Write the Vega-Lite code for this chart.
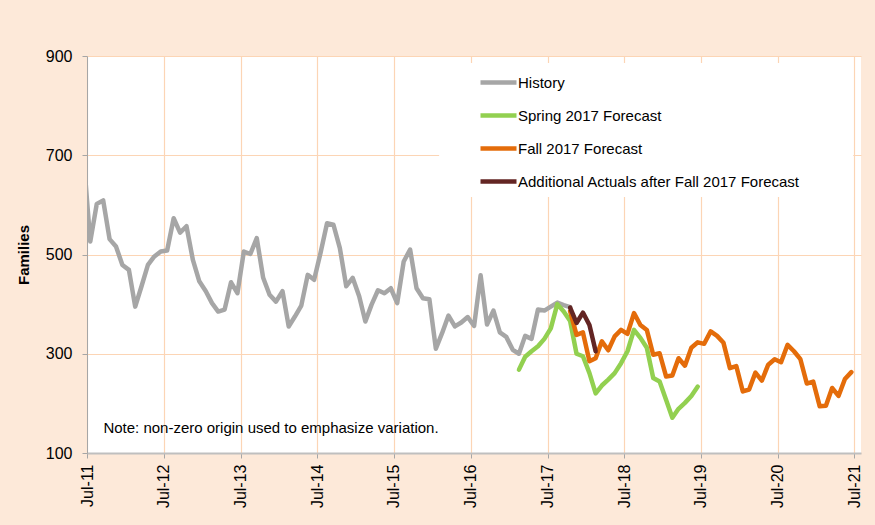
{
  "$schema": "https://vega.github.io/schema/vega-lite/v6.json",
  "width": 774,
  "height": 397,
  "autosize": {"type": "none"},
  "padding": {"left": 87, "top": 56, "right": 14, "bottom": 72},
  "background": "#FDE9D9",
  "config": {
    "view": {"fill": "white", "stroke": null},
    "font": "Liberation Sans",
    "axis": {"labelColor": "black", "titleColor": "black", "labelFont": "Liberation Sans", "titleFont": "Liberation Sans"}
  },
  "datasets": {
    "series": [
      {"s": "History", "d": "2011-06", "v": 690},
      {"s": "History", "d": "2011-07", "v": 526},
      {"s": "History", "d": "2011-08", "v": 602},
      {"s": "History", "d": "2011-09", "v": 609},
      {"s": "History", "d": "2011-10", "v": 531},
      {"s": "History", "d": "2011-11", "v": 516},
      {"s": "History", "d": "2011-12", "v": 479},
      {"s": "History", "d": "2012-01", "v": 469},
      {"s": "History", "d": "2012-02", "v": 395},
      {"s": "History", "d": "2012-03", "v": 436},
      {"s": "History", "d": "2012-04", "v": 479},
      {"s": "History", "d": "2012-05", "v": 496},
      {"s": "History", "d": "2012-06", "v": 506},
      {"s": "History", "d": "2012-07", "v": 508},
      {"s": "History", "d": "2012-08", "v": 573},
      {"s": "History", "d": "2012-09", "v": 544},
      {"s": "History", "d": "2012-10", "v": 557},
      {"s": "History", "d": "2012-11", "v": 489},
      {"s": "History", "d": "2012-12", "v": 446},
      {"s": "History", "d": "2013-01", "v": 426},
      {"s": "History", "d": "2013-02", "v": 402},
      {"s": "History", "d": "2013-03", "v": 385},
      {"s": "History", "d": "2013-04", "v": 389},
      {"s": "History", "d": "2013-05", "v": 444},
      {"s": "History", "d": "2013-06", "v": 422},
      {"s": "History", "d": "2013-07", "v": 506},
      {"s": "History", "d": "2013-08", "v": 501},
      {"s": "History", "d": "2013-09", "v": 533},
      {"s": "History", "d": "2013-10", "v": 453},
      {"s": "History", "d": "2013-11", "v": 419},
      {"s": "History", "d": "2013-12", "v": 405},
      {"s": "History", "d": "2014-01", "v": 426},
      {"s": "History", "d": "2014-02", "v": 355},
      {"s": "History", "d": "2014-03", "v": 375},
      {"s": "History", "d": "2014-04", "v": 397},
      {"s": "History", "d": "2014-05", "v": 459},
      {"s": "History", "d": "2014-06", "v": 449},
      {"s": "History", "d": "2014-07", "v": 503},
      {"s": "History", "d": "2014-08", "v": 563},
      {"s": "History", "d": "2014-09", "v": 560},
      {"s": "History", "d": "2014-10", "v": 513},
      {"s": "History", "d": "2014-11", "v": 436},
      {"s": "History", "d": "2014-12", "v": 453},
      {"s": "History", "d": "2015-01", "v": 416},
      {"s": "History", "d": "2015-02", "v": 365},
      {"s": "History", "d": "2015-03", "v": 399},
      {"s": "History", "d": "2015-04", "v": 428},
      {"s": "History", "d": "2015-05", "v": 422},
      {"s": "History", "d": "2015-06", "v": 432},
      {"s": "History", "d": "2015-07", "v": 402},
      {"s": "History", "d": "2015-08", "v": 486},
      {"s": "History", "d": "2015-09", "v": 510},
      {"s": "History", "d": "2015-10", "v": 432},
      {"s": "History", "d": "2015-11", "v": 412},
      {"s": "History", "d": "2015-12", "v": 410},
      {"s": "History", "d": "2016-01", "v": 310},
      {"s": "History", "d": "2016-02", "v": 342},
      {"s": "History", "d": "2016-03", "v": 377},
      {"s": "History", "d": "2016-04", "v": 355},
      {"s": "History", "d": "2016-05", "v": 363},
      {"s": "History", "d": "2016-06", "v": 374},
      {"s": "History", "d": "2016-07", "v": 356},
      {"s": "History", "d": "2016-08", "v": 458},
      {"s": "History", "d": "2016-09", "v": 359},
      {"s": "History", "d": "2016-10", "v": 387},
      {"s": "History", "d": "2016-11", "v": 343},
      {"s": "History", "d": "2016-12", "v": 334},
      {"s": "History", "d": "2017-01", "v": 308},
      {"s": "History", "d": "2017-02", "v": 300},
      {"s": "History", "d": "2017-03", "v": 336},
      {"s": "History", "d": "2017-04", "v": 330},
      {"s": "History", "d": "2017-05", "v": 389},
      {"s": "History", "d": "2017-06", "v": 387},
      {"s": "History", "d": "2017-07", "v": 395},
      {"s": "History", "d": "2017-08", "v": 403},
      {"s": "History", "d": "2017-09", "v": 398},
      {"s": "History", "d": "2017-10", "v": 394},
      {"s": "Spring 2017 Forecast", "d": "2017-02", "v": 268},
      {"s": "Spring 2017 Forecast", "d": "2017-03", "v": 294},
      {"s": "Spring 2017 Forecast", "d": "2017-04", "v": 305},
      {"s": "Spring 2017 Forecast", "d": "2017-05", "v": 315},
      {"s": "Spring 2017 Forecast", "d": "2017-06", "v": 330},
      {"s": "Spring 2017 Forecast", "d": "2017-07", "v": 351},
      {"s": "Spring 2017 Forecast", "d": "2017-08", "v": 400},
      {"s": "Spring 2017 Forecast", "d": "2017-09", "v": 385},
      {"s": "Spring 2017 Forecast", "d": "2017-10", "v": 366},
      {"s": "Spring 2017 Forecast", "d": "2017-11", "v": 300},
      {"s": "Spring 2017 Forecast", "d": "2017-12", "v": 295},
      {"s": "Spring 2017 Forecast", "d": "2018-01", "v": 261},
      {"s": "Spring 2017 Forecast", "d": "2018-02", "v": 220},
      {"s": "Spring 2017 Forecast", "d": "2018-03", "v": 236},
      {"s": "Spring 2017 Forecast", "d": "2018-04", "v": 248},
      {"s": "Spring 2017 Forecast", "d": "2018-05", "v": 261},
      {"s": "Spring 2017 Forecast", "d": "2018-06", "v": 281},
      {"s": "Spring 2017 Forecast", "d": "2018-07", "v": 305},
      {"s": "Spring 2017 Forecast", "d": "2018-08", "v": 348},
      {"s": "Spring 2017 Forecast", "d": "2018-09", "v": 332},
      {"s": "Spring 2017 Forecast", "d": "2018-10", "v": 312},
      {"s": "Spring 2017 Forecast", "d": "2018-11", "v": 251},
      {"s": "Spring 2017 Forecast", "d": "2018-12", "v": 244},
      {"s": "Spring 2017 Forecast", "d": "2019-01", "v": 207},
      {"s": "Spring 2017 Forecast", "d": "2019-02", "v": 171},
      {"s": "Spring 2017 Forecast", "d": "2019-03", "v": 189},
      {"s": "Spring 2017 Forecast", "d": "2019-04", "v": 201},
      {"s": "Spring 2017 Forecast", "d": "2019-05", "v": 215},
      {"s": "Spring 2017 Forecast", "d": "2019-06", "v": 234},
      {"s": "Fall 2017 Forecast", "d": "2017-10", "v": 386},
      {"s": "Fall 2017 Forecast", "d": "2017-11", "v": 338},
      {"s": "Fall 2017 Forecast", "d": "2017-12", "v": 343},
      {"s": "Fall 2017 Forecast", "d": "2018-01", "v": 285},
      {"s": "Fall 2017 Forecast", "d": "2018-02", "v": 291},
      {"s": "Fall 2017 Forecast", "d": "2018-03", "v": 325},
      {"s": "Fall 2017 Forecast", "d": "2018-04", "v": 307},
      {"s": "Fall 2017 Forecast", "d": "2018-05", "v": 335},
      {"s": "Fall 2017 Forecast", "d": "2018-06", "v": 348},
      {"s": "Fall 2017 Forecast", "d": "2018-07", "v": 340},
      {"s": "Fall 2017 Forecast", "d": "2018-08", "v": 382},
      {"s": "Fall 2017 Forecast", "d": "2018-09", "v": 358},
      {"s": "Fall 2017 Forecast", "d": "2018-10", "v": 348},
      {"s": "Fall 2017 Forecast", "d": "2018-11", "v": 298},
      {"s": "Fall 2017 Forecast", "d": "2018-12", "v": 301},
      {"s": "Fall 2017 Forecast", "d": "2019-01", "v": 254},
      {"s": "Fall 2017 Forecast", "d": "2019-02", "v": 256},
      {"s": "Fall 2017 Forecast", "d": "2019-03", "v": 291},
      {"s": "Fall 2017 Forecast", "d": "2019-04", "v": 276},
      {"s": "Fall 2017 Forecast", "d": "2019-05", "v": 312},
      {"s": "Fall 2017 Forecast", "d": "2019-06", "v": 323},
      {"s": "Fall 2017 Forecast", "d": "2019-07", "v": 320},
      {"s": "Fall 2017 Forecast", "d": "2019-08", "v": 345},
      {"s": "Fall 2017 Forecast", "d": "2019-09", "v": 336},
      {"s": "Fall 2017 Forecast", "d": "2019-10", "v": 322},
      {"s": "Fall 2017 Forecast", "d": "2019-11", "v": 271},
      {"s": "Fall 2017 Forecast", "d": "2019-12", "v": 275},
      {"s": "Fall 2017 Forecast", "d": "2020-01", "v": 224},
      {"s": "Fall 2017 Forecast", "d": "2020-02", "v": 228},
      {"s": "Fall 2017 Forecast", "d": "2020-03", "v": 262},
      {"s": "Fall 2017 Forecast", "d": "2020-04", "v": 246},
      {"s": "Fall 2017 Forecast", "d": "2020-05", "v": 278},
      {"s": "Fall 2017 Forecast", "d": "2020-06", "v": 289},
      {"s": "Fall 2017 Forecast", "d": "2020-07", "v": 283},
      {"s": "Fall 2017 Forecast", "d": "2020-08", "v": 318},
      {"s": "Fall 2017 Forecast", "d": "2020-09", "v": 305},
      {"s": "Fall 2017 Forecast", "d": "2020-10", "v": 289},
      {"s": "Fall 2017 Forecast", "d": "2020-11", "v": 240},
      {"s": "Fall 2017 Forecast", "d": "2020-12", "v": 244},
      {"s": "Fall 2017 Forecast", "d": "2021-01", "v": 194},
      {"s": "Fall 2017 Forecast", "d": "2021-02", "v": 195},
      {"s": "Fall 2017 Forecast", "d": "2021-03", "v": 231},
      {"s": "Fall 2017 Forecast", "d": "2021-04", "v": 215},
      {"s": "Fall 2017 Forecast", "d": "2021-05", "v": 249},
      {"s": "Fall 2017 Forecast", "d": "2021-06", "v": 263},
      {"s": "Additional Actuals after Fall 2017 Forecast", "d": "2017-10", "v": 393},
      {"s": "Additional Actuals after Fall 2017 Forecast", "d": "2017-11", "v": 362},
      {"s": "Additional Actuals after Fall 2017 Forecast", "d": "2017-12", "v": 383},
      {"s": "Additional Actuals after Fall 2017 Forecast", "d": "2018-01", "v": 358},
      {"s": "Additional Actuals after Fall 2017 Forecast", "d": "2018-02", "v": 305}
    ]
  },
  "layer": [
    {
      "data": {"values": [{}]},
      "mark": {"type": "rect", "fill": "white"},
      "encoding": {
        "x": {"datum": {"year": 2016, "month": "feb", "date": 1, "utc": true}, "type": "temporal",
              "scale": {"type": "utc", "domain": [{"year": 2011, "month": "jul", "date": 1, "utc": true}, {"year": 2021, "month": "aug", "date": 1, "utc": true}]}},
        "x2": {"datum": {"year": 2021, "month": "jun", "date": 25, "utc": true}},
        "y": {"datum": 886, "type": "quantitative", "scale": {"domain": [100, 900], "nice": false, "zero": false}},
        "y2": {"datum": 616}
      }
    },
    {
      "data": {"name": "series"},
      "mark": {"type": "line", "strokeWidth": 4.5, "strokeJoin": "round", "strokeCap": "round", "clip": true},
      "encoding": {
        "x": {
          "field": "d", "type": "temporal", "timeUnit": "utcyearmonth", "bandPosition": 0.5,
          "scale": {"type": "utc", "domain": [{"year": 2011, "month": "jul", "date": 1, "utc": true}, {"year": 2021, "month": "aug", "date": 1, "utc": true}]},
          "axis": {
            "title": null,
            "values": [
              {"year": 2011, "month": "jul", "date": 1, "utc": true},
              {"year": 2012, "month": "jul", "date": 1, "utc": true},
              {"year": 2013, "month": "jul", "date": 1, "utc": true},
              {"year": 2014, "month": "jul", "date": 1, "utc": true},
              {"year": 2015, "month": "jul", "date": 1, "utc": true},
              {"year": 2016, "month": "jul", "date": 1, "utc": true},
              {"year": 2017, "month": "jul", "date": 1, "utc": true},
              {"year": 2018, "month": "jul", "date": 1, "utc": true},
              {"year": 2019, "month": "jul", "date": 1, "utc": true},
              {"year": 2020, "month": "jul", "date": 1, "utc": true},
              {"year": 2021, "month": "jul", "date": 1, "utc": true}
            ],
            "labelExpr": "utcFormat(datum.value, '%b-%y')",
            "labelAngle": 270, "labelFontSize": 16, "labelPadding": 6, "labelFlush": false, "labelOverlap": false,
            "tickSize": 5, "tickColor": "#A6A6A6", "domainColor": "#BFBFBF", "domainWidth": 2,
            "grid": true, "gridColor": "#FCD5B5", "gridWidth": 1.2
          }
        },
        "y": {
          "field": "v", "type": "quantitative",
          "scale": {"domain": [100, 900], "nice": false, "zero": false},
          "axis": {
            "title": "Families", "titleFontSize": 15, "titleFontWeight": "bold", "titlePadding": 14,
            "values": [100, 300, 500, 700, 900],
            "labelFontSize": 16, "labelPadding": 10, "tickSize": 5, "tickColor": "#A6A6A6",
            "domainColor": "#A6A6A6", "grid": true, "gridColor": "#FCD5B5", "gridWidth": 1.2
          }
        },
        "color": {
          "field": "s", "type": "nominal",
          "scale": {
            "domain": ["History", "Spring 2017 Forecast", "Fall 2017 Forecast", "Additional Actuals after Fall 2017 Forecast"],
            "range": ["#A6A6A6", "#92D050", "#E46C0A", "#632523"]
          },
          "legend": {
            "title": null, "orient": "none", "legendX": 391, "legendY": 6, "padding": 0,
            "symbolType": "stroke", "symbolSize": 1296, "symbolStrokeWidth": 4.5,
            "labelFontSize": 15, "labelFont": "Liberation Sans", "labelColor": "black", "labelLimit": 400,
            "labelOffset": -1, "rowPadding": 3
          }
        }
      }
    },
    {
      "data": {"values": [{}]},
      "mark": {"type": "text", "text": "Note: non-zero origin used to emphasize variation.", "align": "left", "baseline": "middle", "fontSize": 15, "font": "Liberation Sans", "color": "black"},
      "encoding": {
        "x": {"datum": {"year": 2011, "month": "sep", "date": 17, "utc": true}, "type": "temporal"},
        "y": {"datum": 151, "type": "quantitative"}
      }
    }
  ]
}
